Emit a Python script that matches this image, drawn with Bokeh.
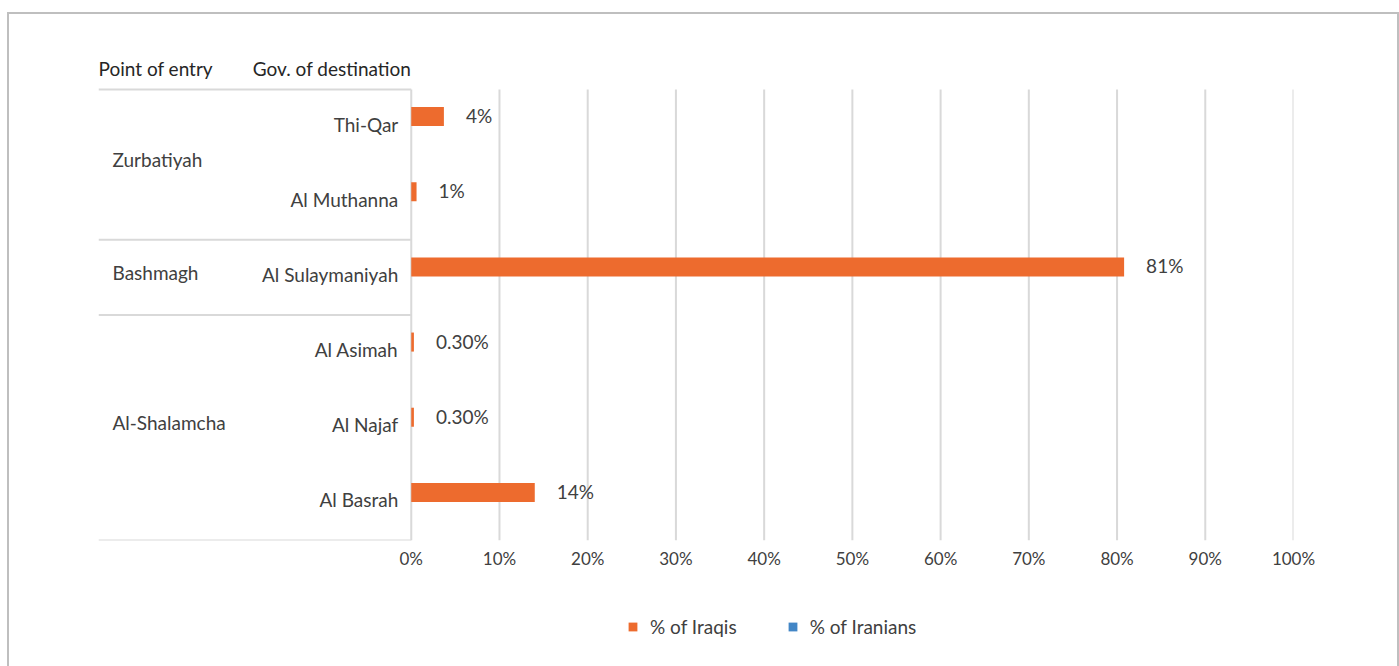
from bokeh.plotting import figure
from bokeh.layouts import column
from bokeh.models import Range1d, FixedTicker, ColumnDataSource, Legend, LegendItem
from bokeh.core.properties import value
from bokeh.embed import file_html
from bokeh.resources import INLINE

# ---- data ----
gov = ["Thi-Qar", "Al Muthanna", "Al Sulaymaniyah", "Al Asimah", "Al Najaf", "Al Basrah"]
entry = ["Zurbatiyah", "Zurbatiyah", "Bashmagh", "Al-Shalamcha", "Al-Shalamcha", "Al-Shalamcha"]
iraqis = [3.7, 0.6, 80.8, 0.3, 0.3, 14.0]
iraqi_labels = ["4%", "1%", "81%", "0.30%", "0.30%", "14%"]
iranians = [0, 0, 0, 0, 0, 0]
series_names = ["% of Iraqis", "% of Iranians"]
x_ticks = [0, 10, 20, 30, 40, 50, 60, 70, 80, 90, 100]
x_tick_labels = ["0%", "10%", "20%", "30%", "40%", "50%", "60%", "70%", "80%", "90%", "100%"]
headers = ["Point of entry", "Gov. of destination"]

FONT = "Lato"
TXT = "#404040"
ORANGE = "#ed6b2e"
BLUE = "#4286c6"
GRID = "#d9d9d9"

n = len(gov)
XMIN = -35.45
HEAD = -0.519   # header strip above the first row (in row units)
W = 1388

p = figure(width=W, height=576, output_backend="svg", toolbar_location=None,
           x_range=Range1d(XMIN, 100), y_range=Range1d(n, HEAD),
           frame_width=1195, frame_height=490,
           min_border_left=89, min_border_right=104, min_border_top=36, min_border_bottom=50)
p.outline_line_color = None
p.background_fill_color = "white"
p.border_fill_color = "white"

# axes
p.yaxis.visible = False
p.ygrid.visible = False
p.xgrid.visible = False
p.xaxis.ticker = FixedTicker(ticks=x_ticks)
p.xaxis.major_label_overrides = {t: l for t, l in zip(x_ticks, x_tick_labels)}
p.xaxis.axis_line_color = None
p.xaxis.major_tick_line_color = None
p.xaxis.minor_tick_line_color = None
p.xaxis.major_label_text_font = FONT
p.xaxis.major_label_text_font_size = "17px"
p.xaxis.major_label_text_color = TXT
p.xaxis.major_label_standoff = 1

# vertical gridlines over the rows only
p.segment(x0=x_ticks, x1=x_ticks, y0=[0] * len(x_ticks), y1=[n] * len(x_ticks),
          line_color=GRID, line_width=2)

# row geometry
centers = [i + 0.5 for i in range(n)]
bar_h = 0.253
dodge = 0.14
src = ColumnDataSource(dict(
    gov=gov, entry=entry, iraqis=iraqis, iranians=iranians, lab=iraqi_labels,
    y_iq=[c - dodge for c in centers], y_ir=[c + dodge for c in centers], yc=centers,
))

p.hbar(y="y_iq", right="iraqis", left=0, height=bar_h, source=src,
       fill_color=ORANGE, line_color=None)
p.hbar(y="y_ir", right="iranians", left=0, height=bar_h, source=src,
       fill_color=BLUE, line_color=None)

# data labels
p.text(x="iraqis", y="y_iq", text="lab", source=src, x_offset=22, y_offset=-1,
       text_align="left", text_baseline="middle", text_font=value(FONT),
       text_font_size="19px", text_color=TXT)

# governorate labels
p.text(x=0, y="yc", text="gov", source=src, x_offset=-13, y_offset=-3,
       text_align="right", text_baseline="middle", text_font=value(FONT),
       text_font_size="19px", text_color=TXT)

# point-of-entry groups
groups = []
for i, e in enumerate(entry):
    if not groups or groups[-1][0] != e:
        groups.append([e, i, i + 1])
    else:
        groups[-1][2] = i + 1
gsrc = ColumnDataSource(dict(
    name=[g[0] for g in groups],
    yc=[(g[1] + g[2]) / 2 for g in groups],
))
p.text(x=XMIN, y="yc", text="name", source=gsrc, x_offset=14, y_offset=-5,
       text_align="left", text_baseline="middle", text_font=value(FONT),
       text_font_size="19px", text_color=TXT)

# separator lines for the category table
bounds = sorted(set([g[1] for g in groups] + [g[2] for g in groups]))
p.segment(x0=[XMIN] * len(bounds), x1=[0] * len(bounds), y0=bounds, y1=bounds,
          line_color=GRID, line_width=2)

# header labels
hsrc = ColumnDataSource(dict(x=[XMIN, 0], y=[HEAD * 0.55] * 2, t=headers,
                             align=["left", "right"]))
p.text(x="x", y="y", text="t", source=hsrc, text_align="align", text_baseline="middle",
       text_font=value(FONT), text_font_size="19px", text_color="#262626")

# legend strip (separate figure below the chart); its ranges keep the bars out of view
pl = figure(width=W, height=90, output_backend="svg", toolbar_location=None,
            x_range=Range1d(1000, 1001), y_range=Range1d(1000, 1001),
            min_border_left=0, min_border_right=0, min_border_top=0, min_border_bottom=0)
pl.axis.visible = False
pl.grid.visible = False
pl.outline_line_color = None
pl.border_fill_color = "white"
l_iq = pl.hbar(y="y_iq", right="iraqis", left=0, height=bar_h, source=src,
               fill_color=ORANGE, line_color=None)
l_ir = pl.hbar(y="y_ir", right="iranians", left=0, height=bar_h, source=src,
               fill_color=BLUE, line_color=None)
legend = Legend(items=[LegendItem(label=series_names[0], renderers=[l_iq]),
                       LegendItem(label=series_names[1], renderers=[l_ir])],
                orientation="horizontal", location=(529, 42),
                glyph_width=11, glyph_height=11, label_standoff=12, spacing=50,
                label_text_font=FONT, label_text_font_size="19px", label_text_color=TXT,
                border_line_color=None, background_fill_alpha=0)
pl.add_layout(legend, "center")

page = column(p, pl, spacing=0, margin=(12, 0, 0, 7),
              styles={"border": "2px solid #bfbfbf", "border-bottom": "none",
                      "background-color": "white"})

open("out.html", "w").write(file_html(page, INLINE))
